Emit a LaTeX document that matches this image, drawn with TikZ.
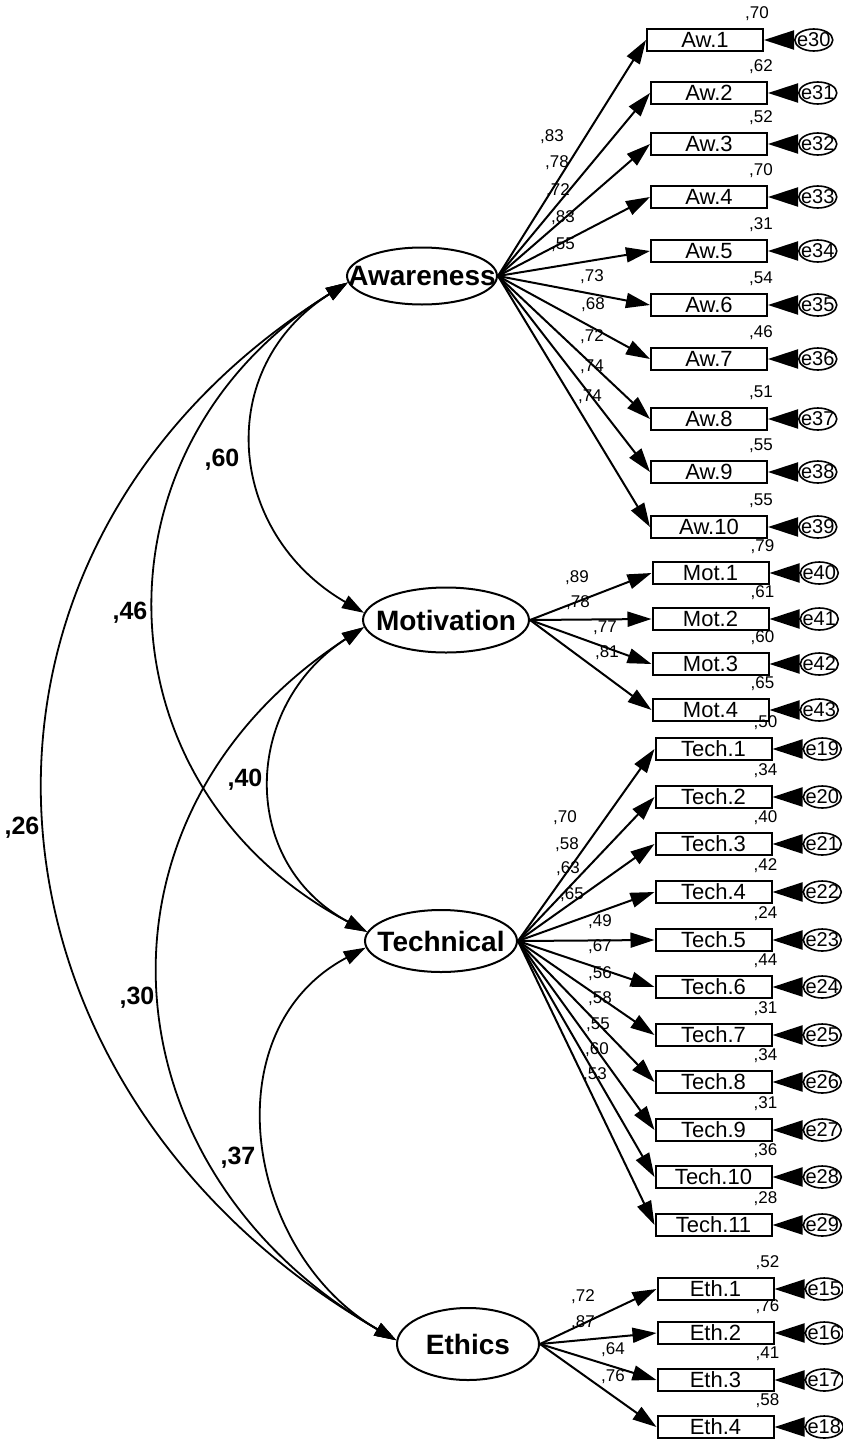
\documentclass[tikz,border=0pt]{standalone}
\usepackage{fontspec}
\setmainfont{Liberation Sans}
\usetikzlibrary{arrows.meta,shapes.geometric,positioning,calc}
\newcommand\LatFont{\fontsize{28}{28}\selectfont\bfseries}
\newcommand\ObsFont{\fontsize{22}{22}\selectfont}
\newcommand\NumFont{\fontsize{17}{17}\selectfont}
\newcommand\CovFont{\fontsize{25}{25}\selectfont\bfseries}
\newcommand\ErrFont{\fontsize{20}{20}\selectfont}
\tikzset{
  latent/.style={draw, ellipse, line width=2pt, fill=white, inner sep=0pt},
  obs/.style={draw, rectangle, line width=2pt, minimum width=116pt, minimum height=22pt,
              inner sep=0pt, text height=15.5pt, text depth=0pt, font=\ObsFont, fill=white},
  errnode/.style={draw, ellipse, line width=1.6pt, minimum width=38pt, minimum height=22pt, inner sep=0pt},
  load/.style={line width=2pt, -{Triangle[length=24pt,width=15pt]}},
  errarr/.style={line width=2pt, -{Triangle[length=30pt,width=19pt]}},
  cov/.style={line width=1.8pt, {Triangle[length=22pt,width=14pt]}-{Triangle[length=22pt,width=14pt]}},
  num/.style={font=\NumFont, inner sep=0pt},
  covlab/.style={font=\CovFont, inner sep=0pt}
}
\begin{document}
\begin{tikzpicture}[x=1pt,y=-1pt]
\useasboundingbox[fill=white] (0,0) rectangle (843,1440);

% latent variables
\node[latent, minimum width=150pt, minimum height=57pt, label={[font=\LatFont]center:Awareness}] (aw) at (422,276) {};
\node[latent, minimum width=166pt, minimum height=65pt, label={[font=\LatFont]center:Motivation}] (mot) at (446,620) {};
\node[latent, minimum width=152pt, minimum height=62pt, label={[font=\LatFont]center:Technical}] (tech) at (441,941) {};
\node[latent, minimum width=142pt, minimum height=72pt, label={[font=\LatFont]center:Ethics}] (eth) at (468,1344) {};

% covariances
\draw[cov] (aw.185) .. controls +(-135,85) and +(-138,-80) .. (mot.175);
\draw[cov] (aw.185) .. controls +(-263,164) and +(-274,-145) .. (tech.173);
\draw[cov] (aw.185) .. controls +(-430,269) and +(-439,-254) .. (eth.177);
\draw[cov] (mot.185) .. controls +(-122,79) and +(-129,-69) .. (tech.173);
\draw[cov] (mot.185) .. controls +(-288,187) and +(-297,-172) .. (eth.177);
\draw[cov] (tech.185) .. controls +(-155,82) and +(-152,-88) .. (eth.177);

\node[covlab] (c60) at (222,460) {,60};
\node[covlab] (c46) at (130,613) {,46};
\node[covlab] (c26) at (22,828) {,26};
\node[covlab] (c40) at (245,780) {,40};
\node[covlab] (c30) at (137,998) {,30};
\node[covlab] (c37) at (238,1158) {,37};

% Awareness indicators
\foreach \i/\x/\y/\r/\e in {1/705/40/70/30, 2/709/93/62/31, 3/709/144/52/32, 4/709/197/70/33,
  5/709/251/31/34, 6/709/305/54/35, 7/709/359/46/36, 8/709/419/51/37, 9/709/472/55/38, 10/709/527/55/39}{
  \node[obs] (aw\i) at (\x,\y) {Aw.\i};
  \node[errnode, right=30pt of aw\i, label={[font=\ErrFont]center:e\e}] (e\e) {};
  \draw[errarr] (e\e) -- (aw\i);
  \node[num] (r\e) at ($(aw\i.east)+(-7,-26)$) {,\r};
  \draw[load] (aw.east) -- (aw\i.west);
}
% Motivation indicators
\foreach \i/\y/\r/\e in {1/573/79/40, 2/619/61/41, 3/664/60/42, 4/710/65/43}{
  \node[obs] (mot\i) at (710.5,\y) {Mot.\i};
  \node[errnode, right=30pt of mot\i, label={[font=\ErrFont]center:e\e}] (e\e) {};
  \draw[errarr] (e\e) -- (mot\i);
  \node[num] (r\e) at ($(mot\i.east)+(-7,-26)$) {,\r};
  \draw[load] (mot.east) -- (mot\i.west);
}
% Technical indicators
\foreach \i/\y/\r/\e in {1/749/50/19, 2/797/34/20, 3/844/40/21, 4/892/42/22, 5/940/24/23, 6/987/44/24,
  7/1035/31/25, 8/1082/34/26, 9/1130/31/27, 10/1177/36/28, 11/1225/28/29}{
  \node[obs] (tech\i) at (713.5,\y) {Tech.\i};
  \node[errnode, right=30pt of tech\i, label={[font=\ErrFont]center:e\e}] (e\e) {};
  \draw[errarr] (e\e) -- (tech\i);
  \node[num] (r\e) at ($(tech\i.east)+(-7,-26)$) {,\r};
  \draw[load] (tech.east) -- (tech\i.west);
}
% Ethics indicators
\foreach \i/\y/\r/\e in {1/1289/52/15, 2/1333/76/16, 3/1380/41/17, 4/1427/58/18}{
  \node[obs] (eth\i) at (715.5,\y) {Eth.\i};
  \node[errnode, right=30pt of eth\i, label={[font=\ErrFont]center:e\e}] (e\e) {};
  \draw[errarr] (e\e) -- (eth\i);
  \node[num] (r\e) at ($(eth\i.east)+(-7,-26)$) {,\r};
  \draw[load] (eth.east) -- (eth\i.west);
}

% loading labels
\foreach \n/\x/\y/\v in {1/552/137/83, 2/557/163/78, 3/558/191/72, 4/563/218/83, 5/563/245/55,
  6/592/277/73, 7/593/305/68, 8/592/337/72, 9/592/367/74, 10/590/397/74}{
  \node[num] (law\n) at (\x,\y) {,\v};
}
\foreach \n/\x/\y/\v in {1/577/578/89, 2/578/603/78, 3/605/628/77, 4/607/653/81}{
  \node[num] (lmot\n) at (\x,\y) {,\v};
}
\foreach \n/\x/\y/\v in {1/565/818/70, 2/567/845/58, 3/568/869/63, 4/572/895/65, 5/600/922/49,
  6/600/947/67, 7/600/974/56, 8/600/999/58, 9/598/1025/55, 10/597/1050/60, 11/595/1075/53}{
  \node[num] (ltech\n) at (\x,\y) {,\v};
}
\foreach \n/\x/\y/\v in {1/583/1297/72, 2/583/1323/87, 3/613/1350/64, 4/613/1377/76}{
  \node[num] (leth\n) at (\x,\y) {,\v};
}
\end{tikzpicture}
\end{document}
